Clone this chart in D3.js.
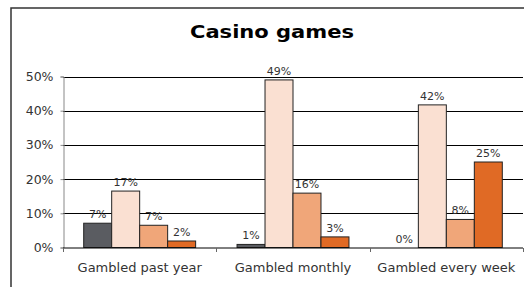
<!DOCTYPE html>
<html>
<head>
<meta charset="utf-8">
<script src="https://cdn.jsdelivr.net/npm/d3@7"></script>
<style>
  body { margin: 0; background: #fff; }
  svg { display: block; }
</style>
</head>
<body>
<script>
// chart data (percent values)
var categories = ["Gambled past year", "Gambled monthly", "Gambled every week"];
var seriesNames = ["s1", "s2", "s3", "s4"];
var seriesColors = ["#5a5c61", "#fae0d2", "#f0a679", "#e06a25"];
var s1 = [7.1, 0.9, 0];
var s2 = [16.5, 49, 41.7];
var s3 = [6.5, 15.9, 8.2];
var s4 = [1.9, 3.1, 25];
var yTicks = [0, 10, 20, 30, 40, 50];

var series = [s1, s2, s3, s4];

var width = 524, height = 287;
var margin = { top: 76.5, left: 63, right: 1, bottom: 39.5 };
var font = "DejaVu Sans, Verdana, sans-serif";

var svg = d3.select("body").append("svg")
  .attr("width", width)
  .attr("height", height);

// outer frame (runs off the right/bottom edge)
svg.append("rect")
  .attr("x", 11).attr("y", 8)
  .attr("width", 530).attr("height", 290)
  .attr("fill", "none")
  .attr("stroke", "#333")
  .attr("stroke-width", 1.5);

var x0 = d3.scaleBand()
  .domain(categories)
  .range([margin.left, width - margin.right])
  .paddingInner(0.27)
  .paddingOuter(0.135);

var x1 = d3.scaleBand()
  .domain(seriesNames)
  .range([0, x0.bandwidth()]);

var y = d3.scaleLinear()
  .domain([0, 50])
  .range([height - margin.bottom, margin.top]);

// gridlines
svg.append("g")
  .selectAll("line")
  .data(yTicks.slice(1))
  .enter().append("line")
  .attr("x1", margin.left).attr("x2", width - margin.right)
  .attr("y1", d => Math.round(y(d)) + 0.5)
  .attr("y2", d => Math.round(y(d)) + 0.5)
  .attr("stroke", "#000")
  .attr("stroke-width", 1);

// y axis
var yAxis = d3.axisLeft(y)
  .tickValues(yTicks)
  .tickFormat(d => d + "%")
  .tickSize(3)
  .tickPadding(7);

var gy = svg.append("g")
  .attr("transform", "translate(" + (margin.left + 0.5) + ",0)")
  .call(yAxis);
gy.select(".domain").attr("stroke", "#888");
gy.selectAll(".tick line").attr("stroke", "#888");
gy.selectAll("text")
  .attr("fill", "#333")
  .style("font-family", font)
  .style("font-size", "12.5px");

// bars
var groups = svg.append("g")
  .selectAll("g")
  .data(categories)
  .enter().append("g")
  .attr("transform", d => "translate(" + x0(d) + ",0)");

groups.selectAll("rect")
  .data((d, i) => series.map((s, j) => ({ key: seriesNames[j], v: s[i], c: seriesColors[j] })))
  .enter().append("rect")
  .attr("x", d => x1(d.key))
  .attr("y", d => y(d.v))
  .attr("width", x1.bandwidth())
  .attr("height", d => y(0) - y(d.v))
  .attr("fill", d => d.c)
  .attr("stroke", d => d.v > 0 ? "#222" : "none")
  .attr("stroke-width", 1);

// data labels
groups.selectAll("text")
  .data((d, i) => series.map((s, j) => ({ key: seriesNames[j], v: s[i] })))
  .enter().append("text")
  .attr("x", d => x1(d.key) + x1.bandwidth() / 2)
  .attr("y", d => y(d.v) - 5)
  .attr("text-anchor", "middle")
  .attr("fill", "#333")
  .style("font-family", font)
  .style("font-size", "11px")
  .text(d => Math.round(d.v) + "%");

// x axis with ticks at category boundaries
var gx = svg.append("g")
  .attr("transform", "translate(0," + (y(0) + 0.5) + ")");
gx.append("line")
  .attr("x1", margin.left).attr("x2", width - margin.right)
  .attr("stroke", "#000");
var step = x0.step();
var bounds = d3.range(categories.length + 1).map(i => margin.left + i * step);
gx.selectAll(".tk")
  .data(bounds)
  .enter().append("line")
  .attr("class", "tk")
  .attr("x1", d => Math.round(d) + 0.5).attr("x2", d => Math.round(d) + 0.5)
  .attr("y1", 0).attr("y2", 4)
  .attr("stroke", "#666");
gx.selectAll("text")
  .data(categories)
  .enter().append("text")
  .attr("x", d => x0(d) + x0.bandwidth() / 2)
  .attr("y", 24)
  .attr("text-anchor", "middle")
  .attr("fill", "#333")
  .style("font-family", font)
  .style("font-size", "13px")
  .text(d => d);

// title
svg.append("text")
  .attr("x", 272)
  .attr("y", 38)
  .attr("text-anchor", "middle")
  .attr("fill", "#000")
  .attr("textLength", 164)
  .attr("lengthAdjust", "spacingAndGlyphs")
  .style("font-family", font)
  .style("font-weight", "bold")
  .style("font-size", "18px")
  .text("Casino games");
</script>
</body>
</html>
